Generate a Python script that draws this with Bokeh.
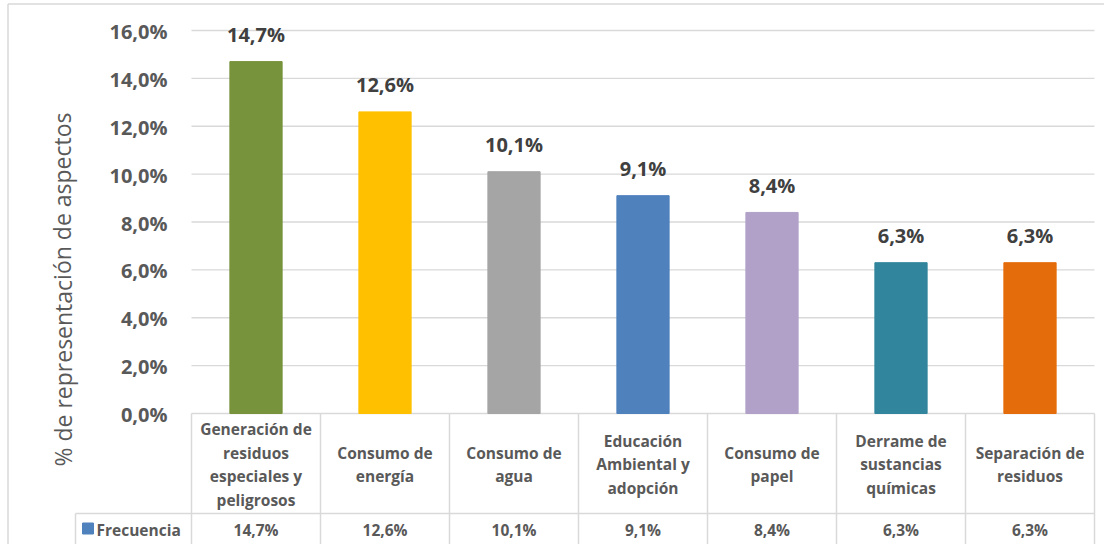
from bokeh.plotting import figure
from bokeh.models import Range1d, ColumnDataSource
from bokeh.core.properties import value
from bokeh.embed import file_html
from bokeh.resources import INLINE

# ---------------- data ----------------
categories = [
    "Generación de\nresiduos\nespeciales y\npeligrosos",
    "Consumo de\nenergía",
    "Consumo de\nagua",
    "Educación\nAmbiental y\nadopción",
    "Consumo de\npapel",
    "Derrame de\nsustancias\nquímicas",
    "Separación de\nresiduos",
]
values = [14.7, 12.6, 10.1, 9.1, 8.4, 6.3, 6.3]
value_labels = ["14,7%", "12,6%", "10,1%", "9,1%", "8,4%", "6,3%", "6,3%"]
colors = ["#77933C", "#FFC000", "#A5A5A5", "#4F81BD", "#B1A0C7", "#31859C", "#E46C0A"]
y_ticks = [0, 2, 4, 6, 8, 10, 12, 14, 16]
y_tick_labels = ["0,0%", "2,0%", "4,0%", "6,0%", "8,0%", "10,0%", "12,0%", "14,0%", "16,0%"]
series_name = "Frecuencia"
y_title = "% de representación de aspectos"

# ---------------- layout helpers (page pixel -> data) ----------------
W, H = 1104, 544
OFF = 0                   # page offset of the figure
X0, CW = 191.0, 129.0     # page x of first category cell, cell width
Y0, UNIT = 413.0, (413.0 - 30.0) / 16.0   # page y of 0%, px per 1%

def dx(px):
    return (px - X0) / CW

def dy(py):
    return (Y0 - py) / UNIT

n = len(categories)
FONT = "Open Sans"
GRAY = "#595959"
LINE = "#D9D9D9"

p = figure(width=W, height=H, output_backend="svg", toolbar_location=None,
           x_range=Range1d(dx(OFF), dx(OFF + W)), y_range=Range1d(dy(OFF + H), dy(OFF)),
           min_border=0, min_border_left=0, min_border_right=0,
           min_border_top=0, min_border_bottom=0)
p.axis.visible = False
p.grid.visible = False
p.outline_line_color = None
p.background_fill_color = "white"
p.border_fill_color = "white"

xc = [i + 0.5 for i in range(n)]

# gridlines
p.segment(x0=[0] * len(y_ticks), x1=[n] * len(y_ticks), y0=y_ticks, y1=y_ticks,
          line_color=LINE, line_width=1.3)

# bars
src = ColumnDataSource(dict(x=xc, top=values, color=colors, lab=value_labels, cat=categories))
p.vbar(x="x", top="top", bottom=0, width=0.405, color="color", source=src)

# data labels
p.text(x="x", y="top", text="lab", source=src, text_align="center",
       text_baseline="alphabetic", y_offset=-27, text_font=value(FONT),
       text_font_style="bold", text_font_size="20px", text_color="#404040")

# y tick labels
p.text(x=[0] * len(y_ticks), y=y_ticks, text=y_tick_labels, x_offset=-24, y_offset=1,
       text_align="right", text_baseline="middle", text_font=value(FONT),
       text_font_style="bold", text_font_size="20px", text_color=GRAY)

# y title
p.text(x=[dx(62)], y=[dy(289)], text=[y_title], angle=1.5708, text_align="center",
       text_baseline="middle", text_font=value(FONT), text_font_size="23px",
       text_color=GRAY)

# data table lines
bottom = dy(560)
p.segment(x0=list(range(n + 1)), x1=list(range(n + 1)), y0=[0] * (n + 1), y1=[bottom] * (n + 1),
          line_color=LINE, line_width=1.5)
p.segment(x0=[dx(75)], x1=[n], y0=[dy(513)], y1=[dy(513)], line_color=LINE, line_width=1.5)
p.segment(x0=[dx(75)], x1=[dx(75)], y0=[dy(513)], y1=[bottom], line_color=LINE, line_width=1.5)

# outer chart border (left & top)
p.segment(x0=[dx(7.5), dx(7.5)], x1=[dx(7.5), dx(1110)], y0=[dy(3.5), dy(3.5)],
          y1=[bottom, dy(3.5)], line_color=LINE, line_width=1.5)

# category labels in table
p.text(x="x", y=dy(464), text="cat", source=src, text_align="center",
       text_baseline="middle", text_line_height=1.07, text_font=value(FONT),
       text_font_style="bold", text_font_size="15.5px", text_color=GRAY)

# value row
p.text(x="x", y=dy(529), text="lab", source=src, text_align="center",
       text_baseline="middle", text_font=value(FONT),
       text_font_style="bold", text_font_size="15.5px", text_color=GRAY)

# legend key + series name
p.scatter(x=[dx(87.5)], y=[dy(528)], marker="square", size=11, color=colors[3])
p.text(x=[dx(96)], y=[dy(529)], text=[series_name], text_align="left",
       text_baseline="middle", text_font=value(FONT),
       text_font_style="bold", text_font_size="15.5px", text_color=GRAY)

open("out.html", "w").write(file_html(p, INLINE))
